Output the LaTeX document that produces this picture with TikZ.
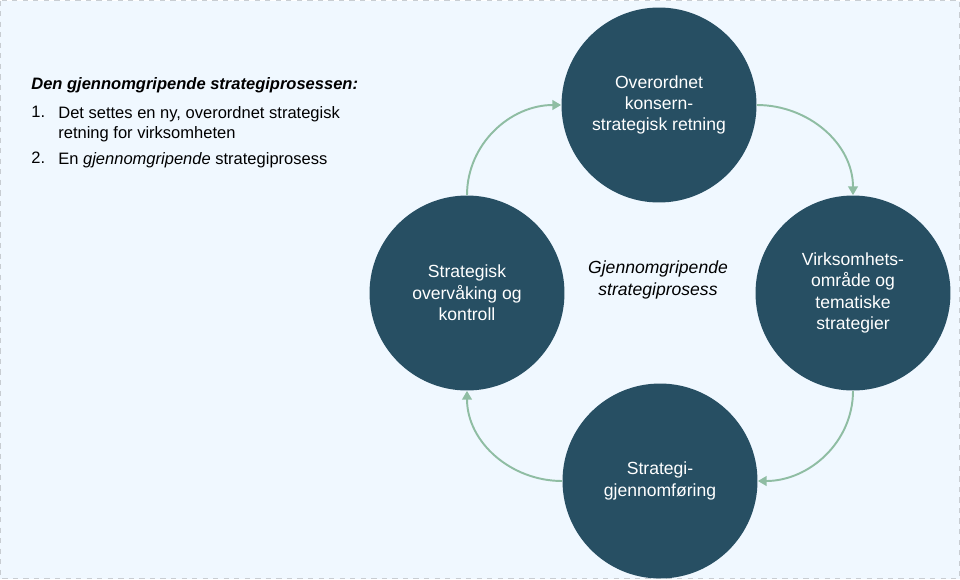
\documentclass[tikz,border=0pt]{standalone}
\usepackage{fontspec}
\setmainfont{Liberation Sans}
\usetikzlibrary{arrows.meta,positioning}
\usepackage{xcolor}
\definecolor{bgcol}{RGB}{240,248,255}
\definecolor{stepcol}{RGB}{39,79,99}
\definecolor{arrowcol}{RGB}{143,189,163}
\definecolor{framecol}{RGB}{200,205,210}

\begin{document}
\begin{tikzpicture}[
  x=0.02cm, y=-0.02cm,
  phase/.style={circle, fill=stepcol, text=white, minimum size=3.9cm,
                inner sep=0pt, align=center,
                font=\fontsize{10}{12.2}\selectfont},
  cyclearrow/.style={draw=arrowcol, line width=1.1pt,
                     -{Triangle[length=5pt,width=5.5pt]}},
  listtext/.style={font=\fontsize{9.4}{11.4}\selectfont, inner sep=0pt,
                   anchor=north west, align=left}
]
  % Background and frame
  \useasboundingbox (0,0) rectangle (960,579);
  \draw[framecol, dashed, fill=bgcol, line width=0.4pt]
    (0.5,0.5) rectangle (959.5,578.5);

  % Left text block
  \node[listtext] (title) at (31,77)
    {\textbf{\textit{Den gjennomgripende strategiprosessen:}}};
  \node[listtext] (num1) at (31,106) {1.};
  \node[listtext] (item1) at (58,106)
    {Det settes en ny, overordnet strategisk\\retning for virksomheten};
  \node[listtext] (num2) at (31,152) {2.};
  \node[listtext] (item2) at (58,152)
    {En \textit{gjennomgripende} strategiprosess};

  % The four phases
  \node[phase] (overordnet) at (659,105)
    {Overordnet\\konsern-\\strategisk retning};
  \node[phase] (virksomhet) at (853,293)
    {Virksomhets-\\område og\\tematiske\\strategier};
  \node[phase] (gjennomf) at (660,481)
    {Strategi-\\gjennomføring};
  \node[phase] (kontroll) at (467,293)
    {Strategisk\\overvåking og\\kontroll};

  % Centre label
  \node[font=\fontsize{10}{12.2}\selectfont\itshape, align=center]
    (midt) at (658,280) {Gjennomgripende\\strategiprosess};

  % Cycle arrows
  \draw[cyclearrow] (kontroll.north) to[out=90, in=180] (overordnet.west);
  \draw[cyclearrow] (overordnet.east) to[out=0, in=90] (virksomhet.north);
  \draw[cyclearrow] (virksomhet.south) to[out=-90, in=0] (gjennomf.east);
  \draw[cyclearrow] (gjennomf.west) to[out=180, in=-90] (kontroll.south);
\end{tikzpicture}
\end{document}
